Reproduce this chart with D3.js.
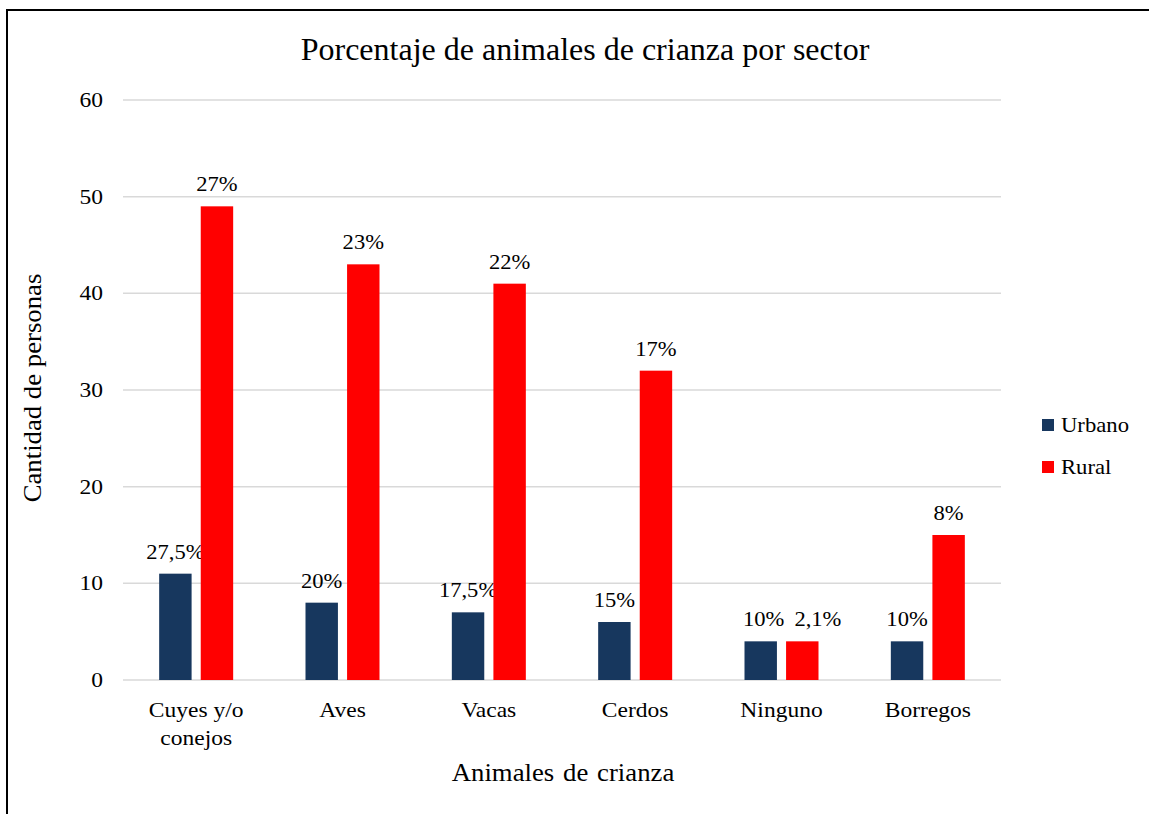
<!DOCTYPE html>
<html><head><meta charset="utf-8">
<script src="https://cdn.jsdelivr.net/npm/d3@7"></script>
<style>body{margin:0;background:#fff}svg{display:block}</style>
</head><body>
<script>
const categories = [["Cuyes y/o","conejos"],["Aves"],["Vacas"],["Cerdos"],["Ninguno"],["Borregos"]];
const seriesNames = ["Urbano","Rural"];
const urbanoValues = [11, 8, 7, 6, 4, 4];
const ruralValues = [49, 43, 41, 32, 4, 15];
const urbanoLabels = ["27,5%","20%","17,5%","15%","10%","10%"];
const ruralLabels = ["27%","23%","22%","17%","2,1%","8%"];
const yTicks = [0,10,20,30,40,50,60];
const colors = ["#17375e","#ff0000"];

const FONT = "'Times New Roman', 'Liberation Serif', Tinos, 'DejaVu Serif', serif";
const SX = 1.12;
const W = 1149, H = 814;
const svg = d3.select("body").append("svg").attr("width", W).attr("height", H)
  .style("font-family", FONT);
svg.append("rect").attr("x",7).attr("y",10).attr("width",W).attr("height",H).attr("fill","none").attr("stroke","#000").attr("stroke-width",2);

function label(parent, x, y, txt, size, anchor, sx, rot){
  return parent.append("text")
    .attr("transform", `translate(${x},${y})` + (rot?` rotate(${rot})`:"") + ` scale(${sx},1)`)
    .attr("text-anchor", anchor).attr("font-size", size).attr("fill","#000").text(txt);
}

const x0 = d3.scaleBand().domain(d3.range(categories.length)).range([123,1001]);
const x1 = d3.scaleBand().domain([0,1]).range([x0.bandwidth()/2-37, x0.bandwidth()/2+37]).paddingInner(0.22);
const y = d3.scaleLinear().domain([0,60]).range([680,100]);

svg.append("g").selectAll("line").data(yTicks).join("line")
  .attr("x1",123).attr("x2",1001).attr("y1",d=>y(d)).attr("y2",d=>y(d))
  .attr("stroke","#d9d9d9").attr("stroke-width",1.5);

const gy = svg.append("g");
yTicks.forEach(v => label(gy, 103, y(v)+7, String(v), 21, "end", SX));

const series = [urbanoValues, ruralValues];
const labels = [urbanoLabels, ruralLabels];
const labelNodes = [[],[]];
series.forEach((vals, s) => {
  const g = svg.append("g");
  g.selectAll("rect").data(vals).join("rect")
    .attr("x",(d,i)=>x0(i)+x1(s)).attr("width",x1.bandwidth())
    .attr("y",d=>y(d)).attr("height",d=>y(0)-y(d)).attr("fill",colors[s]);
  vals.forEach((d,i) => {
    const cx = x0(i)+x1(s)+x1.bandwidth()/2;
    labelNodes[s][i] = {t: label(g, cx, y(d)-15, labels[s][i], 21, "middle", SX*0.96), cx, cy: y(d)-15};
  });
});
// resolve overlapping data labels (push apart horizontally)
categories.forEach((c,i)=>{
  const a = labelNodes[0][i], b = labelNodes[1][i];
  if (Math.abs(a.cy - b.cy) < 22) {
    const ra = a.t.node().getBoundingClientRect(), rb = b.t.node().getBoundingClientRect();
    const need = ra.right + 16 - rb.left;
    if (need > 0) {
      a.t.attr("transform", `translate(${a.cx+3},${a.cy}) scale(${SX*0.96},1)`);
      b.t.attr("transform", `translate(${b.cx+need-3},${b.cy}) scale(${SX*0.96},1)`);
    }
  }
});

const gx = svg.append("g");
categories.forEach((lines,i)=>{
  lines.forEach((l,j)=>label(gx, x0(i)+x0.bandwidth()/2, 717+j*28, l, 21, "middle", SX));
});

label(svg, 585, 60, "Porcentaje de animales de crianza por sector", 32, "middle", 1.0);
label(svg, 563, 781, "Animales de crianza", 25, "middle", 1.07).attr("word-spacing", 2);
label(svg, 41, 388, "Cantidad de personas", 25, "middle", 1.07, -90);

const lg = svg.append("g");
seriesNames.forEach((n,i)=>{
  lg.append("rect").attr("x",1042).attr("y",419+i*42).attr("width",12).attr("height",12).attr("fill",colors[i]);
  label(lg, 1061, 432+i*42, n, 21, "start", 1.08);
});
</script>
</body></html>
